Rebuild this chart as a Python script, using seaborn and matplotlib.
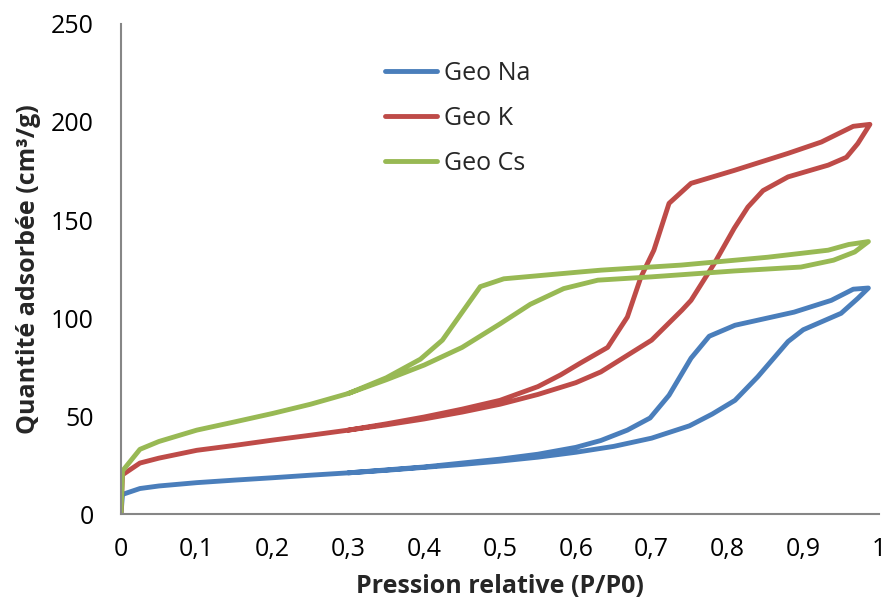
import matplotlib
matplotlib.use("Agg")
import matplotlib.pyplot as plt
import matplotlib.ticker as mticker
import numpy as np
import pandas as pd
import seaborn as sns

# Isotherms: adsorption branch followed by desorption branch (P/P0, cm3/g)
na_p = [0.0, 0.002, 0.025, 0.05, 0.1, 0.15, 0.2, 0.25, 0.3, 0.35, 0.4, 0.45, 0.5, 0.55,
        0.6, 0.65, 0.7, 0.75, 0.78, 0.81, 0.84, 0.88, 0.9, 0.95, 0.972, 0.986,
        0.966, 0.937, 0.888, 0.81, 0.776, 0.752, 0.723, 0.698, 0.668, 0.633, 0.6,
        0.55, 0.5, 0.45, 0.4, 0.3]
na_q = [0.0, 10, 13, 14.3, 16, 17.3, 18.5, 19.8, 21, 22.3, 23.8, 25.3, 27, 29,
        31.5, 34.5, 38.7, 45, 51, 58, 70, 88, 94, 102.4, 110, 115.3,
        114.7, 109, 103, 96.3, 90.7, 79.5, 60.6, 49, 42.8, 37.5, 34,
        30.5, 28, 26, 24, 21]

k_p = [0.0, 0.002, 0.025, 0.05, 0.1, 0.15, 0.2, 0.25, 0.3, 0.35, 0.4, 0.45, 0.5, 0.55,
       0.6, 0.633, 0.7, 0.74, 0.752, 0.783, 0.809, 0.827, 0.847, 0.88, 0.933, 0.957,
       0.972, 0.988,
       0.966, 0.924, 0.88, 0.809, 0.752, 0.723, 0.703, 0.686, 0.668, 0.642, 0.606,
       0.58, 0.55, 0.5, 0.45, 0.4, 0.35, 0.3]
k_q = [0.0, 20, 26, 28.5, 32.5, 35, 37.7, 40.2, 42.8, 45.5, 48.5, 52, 56, 61,
       67, 72.5, 88.7, 104, 109, 128, 145.8, 156.6, 165, 172, 178, 182,
       189, 198.8,
       197.8, 189.8, 184, 175.3, 168.7, 158.5, 134.6, 121, 100.5, 85, 77,
       71, 65, 58, 53.5, 49.5, 46, 42.8]

cs_p = [0.0, 0.002, 0.025, 0.05, 0.1, 0.15, 0.2, 0.25, 0.3, 0.35, 0.4, 0.45, 0.5, 0.54,
        0.584, 0.629, 0.7, 0.809, 0.897, 0.94, 0.968, 0.986,
        0.96, 0.933, 0.853, 0.739, 0.633, 0.606, 0.505, 0.474, 0.424, 0.395, 0.35, 0.3]
cs_q = [0.0, 22, 33, 37, 42.8, 47, 51.3, 56, 61.5, 68.5, 76, 85, 97, 107,
        115, 119.3, 121, 124, 126, 129.5, 133.7, 139,
        137.5, 134.6, 131, 127, 124.4, 123.5, 120, 116, 88.7, 79, 69.5, 61.5]

series = ["Geo Na", "Geo K", "Geo Cs"]
colors = ["#4A7EBB", "#BE4B48", "#98B954"]

frames = []
for name, p, q in zip(series, [na_p, k_p, cs_p], [na_q, k_q, cs_q]):
    frames.append(pd.DataFrame({"p": p, "q": q, "serie": name, "idx": np.arange(len(p))}))
df = pd.concat(frames, ignore_index=True)

sns.set_style("white")
plt.rcParams["font.family"] = ["Open Sans", "DejaVu Sans"]

fig = plt.figure(figsize=(8.87, 6.06), dpi=100)
ax = fig.add_axes([0.1364, 0.1518, 0.8546, 0.8086])

sns.lineplot(data=df, x="p", y="q", hue="serie", hue_order=series,
             palette=colors, sort=False, estimator=None,
             linewidth=3.5, ax=ax)

ax.set_xlim(0, 1)
ax.set_ylim(0, 250)
ax.xaxis.set_major_locator(mticker.MultipleLocator(0.1))
ax.yaxis.set_major_locator(mticker.MultipleLocator(50))
ax.xaxis.set_major_formatter(mticker.FuncFormatter(
    lambda v, pos: ("%g" % round(v, 1)).replace(".", ",")))
ax.yaxis.set_major_formatter(mticker.FuncFormatter(lambda v, pos: "%d" % v))

for side in ["top", "right"]:
    ax.spines[side].set_visible(False)
for side in ["left", "bottom"]:
    ax.spines[side].set_color("#868686")
    ax.spines[side].set_linewidth(1.5)
ax.tick_params(axis="both", which="major", direction="out", length=6.5, width=1.5,
               color="#868686", labelsize=18, labelcolor="black")
ax.tick_params(axis="x", pad=10)
ax.tick_params(axis="y", pad=13)

ax.set_xlabel("Pression relative (P/P0)", fontsize=18, fontweight="bold", labelpad=9)
ax.set_ylabel("Quantité adsorbée (cm³/g)", fontsize=18, fontweight="bold", labelpad=7)

leg = ax.legend(loc="upper left", bbox_to_anchor=(0.348, 0.925), frameon=False,
                borderpad=0, borderaxespad=0,
                fontsize=18, handlelength=2.1, handletextpad=0.25, labelspacing=0.8)
for line in leg.get_lines():
    line.set_linewidth(3.5)
    line.set_solid_capstyle("round")

fig.savefig("out.png", dpi=100)
